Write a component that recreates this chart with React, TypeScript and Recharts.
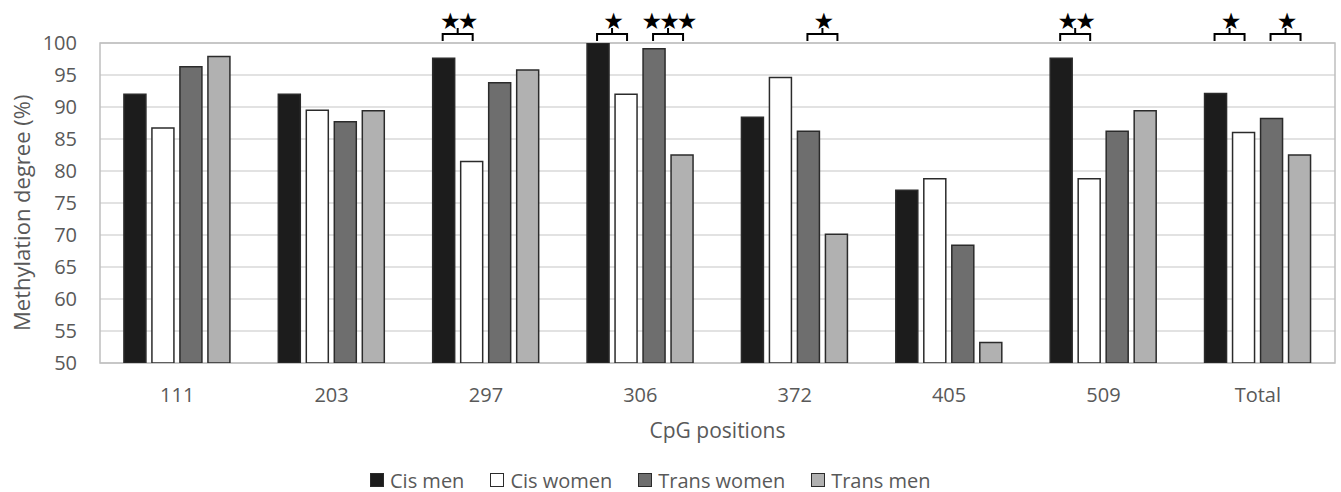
import React from 'react';
import { BarChart, Bar, XAxis, YAxis, CartesianGrid, ReferenceArea } from 'recharts';

const categories = ['111', '203', '297', '306', '372', '405', '509', 'Total'];
const cisMen = [92.0, 92.0, 97.6, 100.0, 88.4, 77.0, 97.6, 92.1];
const cisWomen = [86.7, 89.5, 81.5, 92.0, 94.6, 78.8, 78.8, 86.0];
const transWomen = [96.3, 87.7, 93.8, 99.1, 86.2, 68.4, 86.2, 88.2];
const transMen = [97.9, 89.4, 95.8, 82.5, 70.1, 53.2, 89.4, 82.5];
const yTicks = [50, 55, 60, 65, 70, 75, 80, 85, 90, 95, 100];
const Y_MIN = 50;
const Y_MAX = 100;

const seriesKeys = ['cisMen', 'cisWomen', 'transWomen', 'transMen'];
const seriesNames = ['Cis men', 'Cis women', 'Trans women', 'Trans men'];
const seriesColors = ['#1c1c1c', '#ffffff', '#6e6e6e', '#b1b1b1'];

// significance brackets: between series `from` and `from + 1` at a category
const sigCategory = ['297', '306', '306', '372', '509', 'Total', 'Total'];
const sigFrom = [0, 0, 2, 2, 0, 0, 2];
const sigStars = [2, 1, 3, 1, 2, 1, 1];

const data = categories.map((c, i) => ({
  category: c,
  cisMen: cisMen[i],
  cisWomen: cisWomen[i],
  transWomen: transWomen[i],
  transMen: transMen[i],
}));

const BAR_GAP = 6;
const TEXT = '#595959';
const FONT = '"Open Sans", sans-serif';

const makeBracketLabel = (seriesIndex: number) => (props: any) => {
  const { x, y, width, height, index, value } = props;
  const cat = categories[index];
  const k = sigCategory.findIndex((c, j) => c === cat && sigFrom[j] === seriesIndex);
  if (k < 0) return null;
  const ppu = height / (value - Y_MIN);
  const topY = y + height - (Y_MAX - Y_MIN) * ppu;
  const x1 = x + width / 2 - 1;
  const x2 = x + width / 2 + width + BAR_GAP + 1;
  const cx = (x1 + x2) / 2;
  const legBottom = topY - 2;
  const bar = topY - 9;
  const tickTop = topY - 15;
  const stars = '★'.repeat(sigStars[k]);
  return (
    <g key={`sig-${seriesIndex}-${index}`}>
      <path
        d={`M${x1},${legBottom} L${x1},${bar} L${x2},${bar} L${x2},${legBottom} M${cx},${bar} L${cx},${tickTop}`}
        stroke="#000"
        strokeWidth={2}
        fill="none"
      />
      <text
        x={cx}
        y={tickTop + 1}
        textAnchor="middle"
        fontSize={23}
        fontFamily="DejaVu Sans"
        fill="#000"
        letterSpacing={-3}
      >
        {stars}
      </text>
    </g>
  );
};

export default function App() {
  return (
    <div style={{ position: 'absolute', left: 0, top: 0, width: 1341, height: 492, background: '#fff' }}>
      <BarChart
        width={1341}
        height={492}
        data={data}
        margin={{ top: 43, right: 6, bottom: 0, left: 0 }}
        barCategoryGap="15.5%"
        barGap={BAR_GAP}
      >
        <CartesianGrid vertical={false} stroke="#d9d9d9" strokeWidth={1.5} />
        <XAxis
          dataKey="category"
          axisLine={false}
          tickLine={false}
          tickSize={0}
          tickMargin={25}
          height={129}
          tick={{ fill: TEXT, fontSize: 20, fontFamily: FONT }}
          label={{
            value: 'CpG positions',
            position: 'insideBottom',
            offset: 54,
            fill: TEXT,
            fontSize: 21,
            fontFamily: FONT,
          }}
        />
        <YAxis
          domain={[Y_MIN, Y_MAX]}
          ticks={yTicks}
          allowDataOverflow
          axisLine={false}
          tickLine={false}
          tickSize={0}
          tickMargin={23}
          width={100}
          tick={{ fill: TEXT, fontSize: 20, fontFamily: FONT }}
          label={{
            value: 'Methylation degree (%)',
            angle: -90,
            position: 'insideLeft',
            offset: 22,
            dy: 128,
            fill: TEXT,
            fontSize: 22,
            fontFamily: FONT,
          }}
        />
        <ReferenceArea y1={Y_MIN} y2={Y_MAX} fill="none" stroke="#bfbfbf" strokeWidth={1.5} ifOverflow="visible" />
        {seriesKeys.map((key, i) => (
          <Bar
            key={key}
            dataKey={key}
            name={seriesNames[i]}
            fill={seriesColors[i]}
            stroke="#2b2b2b"
            strokeWidth={1.5}
            isAnimationActive={false}
            label={makeBracketLabel(i)}
          />
        ))}
      </BarChart>
      <div
        style={{
          position: 'absolute',
          left: 370,
          top: 468,
          height: 24,
          display: 'flex',
          alignItems: 'center',
          fontFamily: FONT,
          fontSize: 20,
          color: TEXT,
          whiteSpace: 'nowrap',
        }}
      >
        {seriesNames.map((n, i) => (
          <div key={n} style={{ display: 'flex', alignItems: 'center', marginRight: 26 }}>
            <span
              style={{
                display: 'inline-block',
                width: 12,
                height: 12,
                background: seriesColors[i],
                border: '1px solid #2b2b2b',
                marginRight: 6,
              }}
            />
            <span>{n}</span>
          </div>
        ))}
      </div>
    </div>
  );
}
